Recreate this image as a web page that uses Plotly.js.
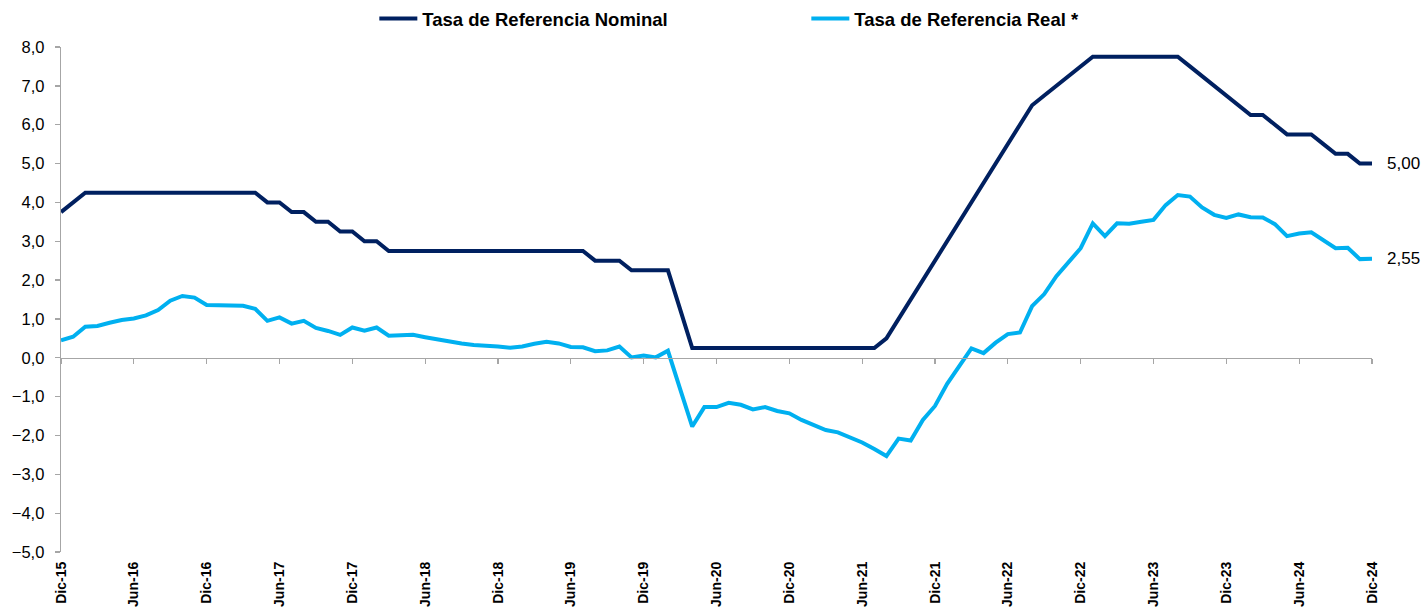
<!DOCTYPE html>
<html>
<head>
<meta charset="utf-8">
<script src="https://cdn.plot.ly/plotly-3.0.1.min.js"></script>
<style>
  html, body { margin: 0; padding: 0; background: #ffffff; }
  #chart { width: 1426px; height: 610px; }
</style>
</head>
<body>
<div id="chart"></div>
<script>
// Month names (Spanish) and years used to build category labels
const monthNames = ["Ene", "Feb", "Mar", "Abr", "May", "Jun", "Jul", "Ago", "Set", "Oct", "Nov", "Dic"];
const firstYear = 15; // Dic-15 is the first category
const lastYear = 24;

// Tick labels shown on the x axis
const tickLabels = ["Dic-15", "Jun-16", "Dic-16", "Jun-17", "Dic-17", "Jun-18", "Dic-18", "Jun-19", "Dic-19",
  "Jun-20", "Dic-20", "Jun-21", "Dic-21", "Jun-22", "Dic-22", "Jun-23", "Dic-23", "Jun-24", "Dic-24"];

// Tasa de Referencia Nominal (monthly, Dic-15 .. Dic-24)
const nominal = [
  3.75, 4.00, 4.25, 4.25, 4.25, 4.25, 4.25, 4.25, 4.25, 4.25, 4.25, 4.25, 4.25, 4.25, 4.25, 4.25, 4.25,
  4.00, 4.00, 3.75, 3.75, 3.50, 3.50, 3.25, 3.25, 3.00, 3.00,
  2.75, 2.75, 2.75, 2.75, 2.75, 2.75, 2.75, 2.75, 2.75, 2.75, 2.75, 2.75, 2.75, 2.75, 2.75, 2.75, 2.75,
  2.50, 2.50, 2.50,
  2.25, 2.25, 2.25, 2.25,
  1.25,
  0.25, 0.25, 0.25, 0.25, 0.25, 0.25, 0.25, 0.25, 0.25, 0.25, 0.25, 0.25, 0.25, 0.25, 0.25, 0.25,
  0.50, 1.00, 1.50, 2.00, 2.50, 3.00, 3.50, 4.00, 4.50, 5.00, 5.50, 6.00, 6.50, 6.75, 7.00, 7.25, 7.50,
  7.75, 7.75, 7.75, 7.75, 7.75, 7.75, 7.75, 7.75,
  7.50, 7.25, 7.00, 6.75, 6.50, 6.25, 6.25, 6.00, 5.75, 5.75, 5.75, 5.50, 5.25, 5.25, 5.00, 5.00
];

// Tasa de Referencia Real * (monthly, Dic-15 .. Dic-24)
const real = [
  0.45, 0.54, 0.80, 0.82, 0.90, 0.97, 1.01, 1.09, 1.23, 1.47, 1.59, 1.55, 1.36, 1.36, 1.36, 1.34, 1.26,
  0.95, 1.04, 0.88, 0.95, 0.77, 0.69, 0.59, 0.78, 0.70, 0.78,
  0.57, 0.58, 0.59, 0.53, 0.47, 0.42, 0.37, 0.33, 0.32, 0.29, 0.26, 0.29, 0.36, 0.41, 0.37, 0.28, 0.27,
  0.17, 0.19, 0.29,
  0.01, 0.06, 0.01, 0.18,
  -0.80,
  -1.77, -1.27, -1.27, -1.16, -1.21, -1.33, -1.27, -1.37, -1.43, -1.60, -1.73, -1.86, -1.92, -2.05, -2.18, -2.35,
  -2.53, -2.08, -2.13, -1.60, -1.24, -0.67, -0.23, 0.24, 0.12, 0.39, 0.61, 0.65, 1.33, 1.64, 2.10, 2.47, 2.82,
  3.46, 3.13, 3.46, 3.45, 3.50, 3.55, 3.93, 4.19,
  4.15, 3.87, 3.68, 3.60, 3.69, 3.62, 3.61, 3.44, 3.13, 3.20, 3.23, 3.01, 2.82, 2.83, 2.54, 2.55
];

// Build the monthly category labels
const months = ["Dic-" + firstYear];
for (let y = firstYear + 1; y <= lastYear; y++) {
  for (let m = 0; m < 12; m++) months.push(monthNames[m] + "-" + y);
}

const navy = "#002060";
const sky = "#00B0F0";
const FONT = "Liberation Sans, Arial, sans-serif";

const traces = [
  {
    x: months, y: nominal, type: "scatter", mode: "lines",
    name: "Tasa de Referencia Nominal",
    line: { color: navy, width: 4 }, hoverinfo: "skip"
  },
  {
    x: months, y: real, type: "scatter", mode: "lines",
    name: "Tasa de Referencia Real *",
    line: { color: sky, width: 4 }, hoverinfo: "skip"
  },
  {
    x: months, y: months.map(() => null), xaxis: "x2", type: "scatter", mode: "lines",
    showlegend: false, hoverinfo: "skip", line: { width: 0 }
  }
];

function fmt(v) { return v.toFixed(2).replace(".", ","); }

const n = months.length;
const layout = {
  width: 1426, height: 610,
  margin: { l: 61, r: 54, t: 47, b: 58 },
  paper_bgcolor: "#ffffff", plot_bgcolor: "#ffffff",
  separators: ",.",
  font: { family: FONT, color: "#000000", size: 16 },
  showlegend: true,
  legend: {
    orientation: "h", x: 0.239, xanchor: "left", y: 1.0, yanchor: "top",
    yref: "container",
    itemwidth: 38,
    entrywidth: 379, entrywidthmode: "pixels",
    font: { family: FONT, size: 18.5, color: "#000000", weight: "bold" },
    bgcolor: "rgba(0,0,0,0)"
  },
  xaxis: {
    type: "category", categoryarray: months, range: [0, n - 1],
    tickmode: "array", tickvals: tickLabels, ticktext: tickLabels,
    tickangle: -90, showline: false, showgrid: false, zeroline: false,
    ticks: "", ticklabelstandoff: 6,
    tickfont: { family: FONT, size: 14, color: "#000000", weight: "bold" }
  },
  xaxis2: {
    type: "category", categoryarray: months, range: [0, n - 1],
    overlaying: "x", anchor: "free", position: 5 / 13,
    tickmode: "array", tickvals: tickLabels, showticklabels: false,
    showline: true, linecolor: "#a6a6a6", linewidth: 1.3,
    ticks: "outside", ticklen: 5, tickcolor: "#a6a6a6", tickwidth: 1.3,
    showgrid: false, zeroline: false
  },
  yaxis: {
    range: [-5, 8], dtick: 1, tick0: 0, tickformat: ".1f",
    showline: true, linecolor: "#a6a6a6", linewidth: 1.3,
    ticks: "outside", ticklen: 5, tickcolor: "#a6a6a6", tickwidth: 1.3,
    showgrid: false, zeroline: false, ticklabelstandoff: 7,
    tickfont: { family: FONT, size: 16.5, color: "#000000" }
  },
  annotations: [
    {
      x: months[n - 1], y: nominal[n - 1], xref: "x", yref: "y",
      text: fmt(nominal[n - 1]), showarrow: false, xanchor: "left", xshift: 13,
      font: { family: FONT, size: 17, color: "#000000" }
    },
    {
      x: months[n - 1], y: real[n - 1], xref: "x", yref: "y",
      text: fmt(real[n - 1]), showarrow: false, xanchor: "left", xshift: 13,
      font: { family: FONT, size: 17, color: "#000000" }
    }
  ]
};

Plotly.newPlot("chart", traces, layout, { staticPlot: true, displayModeBar: false });
</script>
</body>
</html>
